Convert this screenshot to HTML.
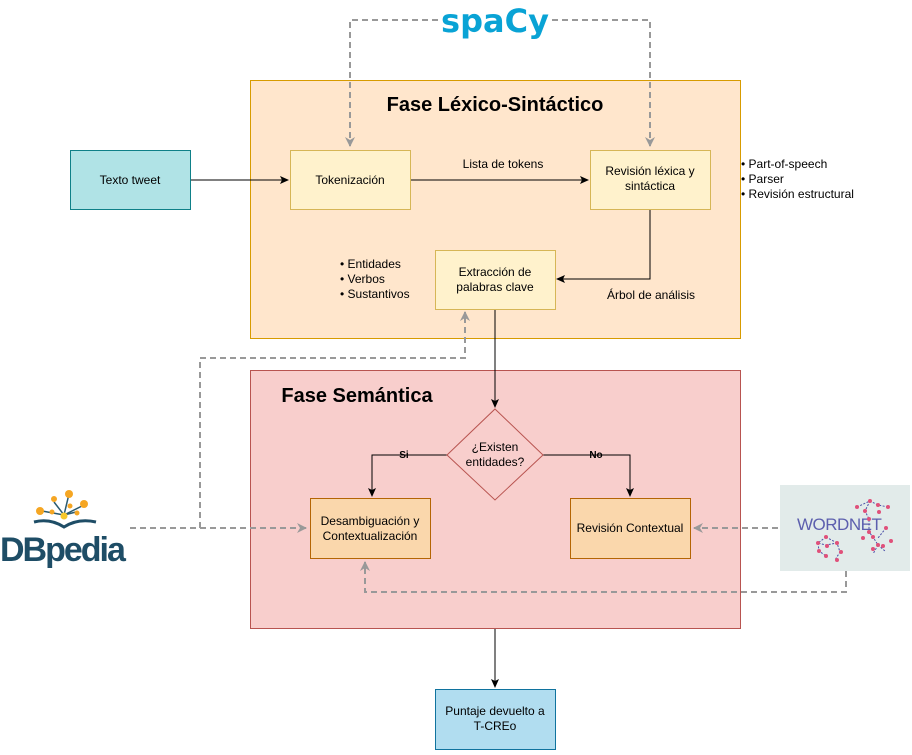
<!DOCTYPE html>
<html><head><meta charset="utf-8"><style>body{margin:0;background:#fff}</style></head><body>
<svg width="912" height="750" viewBox="0 0 912 750" xmlns="http://www.w3.org/2000/svg" font-family="Liberation Sans, Arial, sans-serif">
<defs>
<marker id="a" markerWidth="10" markerHeight="10" refX="8" refY="5" orient="auto" markerUnits="userSpaceOnUse"><path d="M0,1 L9,5 L0,9 L2,5 Z" fill="#000"/></marker>
<marker id="g" markerWidth="12" markerHeight="12" refX="9" refY="6" orient="auto" markerUnits="userSpaceOnUse"><path d="M0,1 L10,6 L0,11 L3,6 Z" fill="#999"/></marker>
</defs>
<rect x="250.5" y="80.5" width="490" height="258" fill="#ffe6cc" stroke="#d79b00"/>
<rect x="250.5" y="370.5" width="490" height="258" fill="#f8cecc" stroke="#b85450"/>
<text x="495" y="111" font-size="20" font-weight="bold" text-anchor="middle">Fase Léxico-Sintáctico</text>
<text x="357" y="402" font-size="20" font-weight="bold" text-anchor="middle">Fase Semántica</text>
<text x="495" y="32" font-size="32" font-weight="bold" fill="#09a3d5" text-anchor="middle" font-family="DejaVu Sans, sans-serif">spaCy</text>
<g fill="none" stroke="#999" stroke-width="2" stroke-dasharray="6,4">
<path d="M438,20 H350 V146" marker-end="url(#g)"/>
<path d="M552,20 H650 V146" marker-end="url(#g)"/>
<path d="M130,528 H306" marker-end="url(#g)"/>
<path d="M200,528 V358 H465 V312" marker-end="url(#g)"/>
<path d="M778,528 H694" marker-end="url(#g)"/>
<path d="M846,571 V592 H365 V562" marker-end="url(#g)"/>
</g>
<g stroke="#000" fill="none">
<path d="M190,180 H288" marker-end="url(#a)"/>
<path d="M410,180 H588" marker-end="url(#a)"/>
<path d="M650,210 V279 H557" marker-end="url(#a)"/>
<path d="M495,310 V407" marker-end="url(#a)"/>
<path d="M447,455 H372 V496" marker-end="url(#a)"/>
<path d="M543,455 H630 V496" marker-end="url(#a)"/>
<path d="M495,629 V687" marker-end="url(#a)"/>
</g>
<rect x="70.5" y="150.5" width="120" height="59" fill="#b0e3e6" stroke="#0e8088"/>
<text x="130" y="184" font-size="12" text-anchor="middle">Texto tweet</text>
<rect x="290.5" y="150.5" width="120" height="59" fill="#fff2cc" stroke="#d6b656"/>
<text x="350" y="184" font-size="12" text-anchor="middle">Tokenización</text>
<rect x="590.5" y="150.5" width="120" height="59" fill="#fff2cc" stroke="#d6b656"/>
<text x="650" y="175" font-size="12" text-anchor="middle">Revisión léxica y</text>
<text x="650" y="190" font-size="12" text-anchor="middle">sintáctica</text>
<rect x="435.5" y="250.5" width="120" height="59" fill="#fff2cc" stroke="#d6b656"/>
<text x="495" y="276" font-size="12" text-anchor="middle">Extracción de</text>
<text x="495" y="291" font-size="12" text-anchor="middle">palabras clave</text>
<polygon points="495,409 543,455 495,500 447,455" fill="#f8cecc" stroke="#b85450"/>
<text x="495" y="451" font-size="12" text-anchor="middle">¿Existen</text>
<text x="495" y="466" font-size="12" text-anchor="middle">entidades?</text>
<rect x="310.5" y="498.5" width="120" height="60" fill="#fad7ac" stroke="#b46504"/>
<text x="370" y="525" font-size="12" text-anchor="middle">Desambiguación y</text>
<text x="370" y="540" font-size="12" text-anchor="middle">Contextualización</text>
<rect x="570.5" y="498.5" width="120" height="60" fill="#fad7ac" stroke="#b46504"/>
<text x="630" y="532" font-size="12" text-anchor="middle">Revisión Contextual</text>
<rect x="435.5" y="689.5" width="120" height="60" fill="#b1ddf0" stroke="#10739e"/>
<text x="495" y="715" font-size="12" text-anchor="middle">Puntaje devuelto a</text>
<text x="495" y="730" font-size="12" text-anchor="middle">T-CREo</text>
<g font-size="12">
<text x="503" y="168" text-anchor="middle">Lista de tokens</text>
<text x="651" y="299" text-anchor="middle">Árbol de análisis</text>
<text x="741" y="168">•  Part-of-speech</text>
<text x="741" y="183">•  Parser</text>
<text x="741" y="198">•  Revisión estructural</text>
<text x="340" y="268">•  Entidades</text>
<text x="340" y="283">•  Verbos</text>
<text x="340" y="298">•  Sustantivos</text>
</g>
<text x="404" y="458" font-size="10" font-weight="bold" text-anchor="middle">Si</text>
<text x="596" y="458" font-size="10" font-weight="bold" text-anchor="middle">No</text>
<g stroke="#2a5a70" stroke-width="1.5">
<line x1="64" y1="515" x2="54" y2="502"/><line x1="64" y1="515" x2="69" y2="494"/><line x1="64" y1="515" x2="84" y2="505"/><line x1="64" y1="515" x2="42" y2="511"/><line x1="64" y1="515" x2="76" y2="512"/>
</g>
<g fill="#f5a623">
<circle cx="69" cy="494" r="4"/><circle cx="54" cy="499" r="3"/><circle cx="84" cy="504" r="4"/><circle cx="40" cy="511" r="4"/><circle cx="52" cy="512" r="2.5"/><circle cx="70" cy="506" r="2.5"/><circle cx="77" cy="513" r="2.5"/><circle cx="64" cy="516" r="3.5" fill="#f7c72a"/>
</g>
<path d="M34,522 Q50,518 64,527 Q78,518 96,522" fill="none" stroke="#1e4d66" stroke-width="3"/>
<text x="0" y="561" font-size="34" font-weight="bold" fill="#1e4d66" letter-spacing="-2">DBpedia</text>
<rect x="780" y="485" width="130" height="86" fill="#e2ebea"/>
<text x="797" y="530" font-size="17" fill="#5c5fae" letter-spacing="-0.5">WORDNET</text>
<g stroke="#4a4fa8" stroke-width="1" stroke-dasharray="2,1.5" fill="none">
<path d="M857,507 L870,501 L878,505 L888,507 M870,501 L865,511 L869,519 L869,532 L873,537 L878,545 L885,551 M878,545 L873,554 M886,528 L878,538"/>
<path d="M826,537 L818,543 L826,545 L837,543 L840,552 L835,560 M818,543 L819,551 L826,556 M826,537 L837,543"/>
</g>
<g fill="#e0507a">
<circle cx="870" cy="501" r="2"/><circle cx="865" cy="511" r="2"/><circle cx="878" cy="505" r="2"/><circle cx="888" cy="507" r="2"/><circle cx="857" cy="507" r="2"/><circle cx="879" cy="512" r="2"/><circle cx="869" cy="519" r="2"/><circle cx="869" cy="532" r="2"/><circle cx="873" cy="537" r="2"/><circle cx="886" cy="528" r="2"/><circle cx="878" cy="545" r="2"/><circle cx="891" cy="541" r="2"/><circle cx="873" cy="549" r="2"/><circle cx="883" cy="546" r="2"/><circle cx="863" cy="538" r="2"/>
<circle cx="826" cy="537" r="2"/><circle cx="818" cy="543" r="2"/><circle cx="837" cy="543" r="2"/><circle cx="827" cy="546" r="2"/><circle cx="819" cy="551" r="2"/><circle cx="826" cy="556" r="2"/><circle cx="841" cy="552" r="2"/><circle cx="837" cy="560" r="2"/>
</g>
</svg>
</body></html>
